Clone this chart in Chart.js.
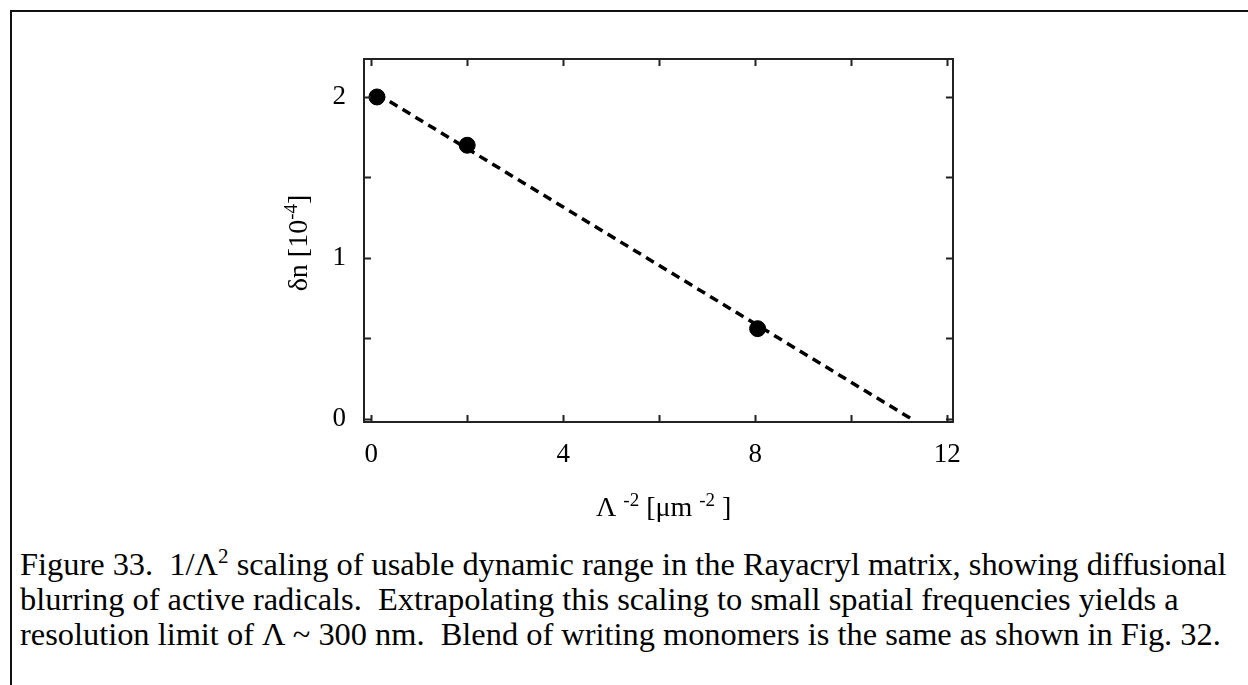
<!DOCTYPE html>
<html>
<head>
<meta charset="utf-8">
<script src="https://cdn.jsdelivr.net/npm/chart.js@4/dist/chart.umd.min.js"></script>
<style>
  html, body { margin: 0; padding: 0; background: #fff; }
  body { width: 1248px; height: 685px; position: relative; overflow: hidden; }
  #frame {
    position: absolute; left: 10px; top: 10px; width: 1300px; height: 800px;
    border-left: 2px solid #111; border-top: 2px solid #111; box-sizing: border-box;
  }
  #wrap { position: absolute; left: 0; top: 0; width: 1248px; height: 540px; }
  #caption {
    position: absolute; left: 20px; top: 547px; width: 1225px;
    font-family: "Liberation Serif", "Times New Roman", serif;
    font-size: 32.4px; line-height: 35px; color: #000; white-space: nowrap;
  }
  #caption sup { font-size: 21px; line-height: 0; vertical-align: 12px; }
</style>
</head>
<body>
<div id="frame"></div>
<div id="wrap"><canvas id="chart" width="1248" height="540"></canvas></div>
<div id="caption">Figure 33.&nbsp; 1/Λ<sup>2</sup> scaling of usable dynamic range in the Rayacryl matrix, showing diffusional<br>blurring of active radicals.&nbsp; Extrapolating this scaling to small spatial frequencies yields a<br>resolution limit of Λ ~ 300 nm.&nbsp; Blend of writing monomers is the same as shown in Fig. 32.</div>
<script>
// Measured grating data: inverse squared period vs. index modulation
const invPeriodSq = [0.12, 2.0, 8.05];
const deltaN = [2.0, 1.7, 0.56];

// Linear extrapolation of the data down to zero modulation
const fitX = [0.12, 11.25];
const fitY = [2.02, 0.0];

// Axis ticks
const xLabelTicks = [0, 4, 8, 12];
const xMarkTicks = [0, 2, 4, 6, 8, 10, 12];
const yLabelTicks = [0, 1, 2];
const yMarkTicks = [0, 0.5, 1, 1.5, 2];

const SERIF = '"Liberation Serif", "Times New Roman", serif';

// Draw a string made of normal and superscript pieces, starting at (x, y) baseline
function drawRich(ctx, parts, x, y, size) {
  let cx = x;
  for (const p of parts) {
    const s = p.sup ? Math.round(size * 0.68) : size;
    ctx.font = s + 'px ' + SERIF;
    ctx.fillText(p.t, cx, p.sup ? y - size * 0.36 : y);
    cx += ctx.measureText(p.t).width;
  }
  return cx - x;
}
function richWidth(ctx, parts, size) {
  let w = 0;
  for (const p of parts) {
    const s = p.sup ? Math.round(size * 0.68) : size;
    ctx.font = s + 'px ' + SERIF;
    w += ctx.measureText(p.t).width;
  }
  return w;
}

const frameAndTitles = {
  id: 'frameAndTitles',
  afterDraw(chart) {
    const ctx = chart.ctx;
    const a = chart.chartArea;
    const xs = chart.scales.x, ys = chart.scales.y;
    ctx.save();
    ctx.strokeStyle = '#222';
    ctx.lineWidth = 2;
    ctx.strokeRect(a.left, a.top, a.right - a.left, a.bottom - a.top);

    // inward tick marks on all four sides
    const tl = 7;
    ctx.beginPath();
    for (const v of xMarkTicks) {
      const px = Math.round(xs.getPixelForValue(v)) + 0.5;
      ctx.moveTo(px, a.bottom); ctx.lineTo(px, a.bottom - tl);
      ctx.moveTo(px, a.top); ctx.lineTo(px, a.top + tl);
    }
    for (const v of yMarkTicks) {
      const py = Math.round(ys.getPixelForValue(v)) + 0.5;
      ctx.moveTo(a.left, py); ctx.lineTo(a.left + tl, py);
      ctx.moveTo(a.right, py); ctx.lineTo(a.right - tl, py);
    }
    ctx.stroke();

    ctx.fillStyle = '#000';
    ctx.textBaseline = 'alphabetic';
    ctx.textAlign = 'left';

    // x axis title
    const xt = [{t: 'Λ '}, {t: '-2', sup: true}, {t: ' [μm '}, {t: '-2', sup: true}, {t: ' ]'}];
    const xw = richWidth(ctx, xt, 28);
    drawRich(ctx, xt, 596, 516, 28);

    // y axis title (rotated)
    const yt = [{t: 'δn [10'}, {t: '-4', sup: true}, {t: ']'}];
    const yw = richWidth(ctx, yt, 28);
    ctx.translate(307, 243);
    ctx.rotate(-Math.PI / 2);
    drawRich(ctx, yt, -yw / 2, 0, 28);
    ctx.restore();
  }
};

new Chart(document.getElementById('chart'), {
  data: {
    datasets: [
      {
        type: 'line',
        data: fitX.map((x, i) => ({x, y: fitY[i]})),
        borderColor: '#000',
        borderWidth: 3.5,
        borderDash: [9, 6],
        pointRadius: 0,
        fill: false,
        order: 2
      },
      {
        type: 'scatter',
        data: invPeriodSq.map((x, i) => ({x, y: deltaN[i]})),
        backgroundColor: '#000',
        borderColor: '#000',
        pointRadius: 8,
        order: 1
      }
    ]
  },
  options: {
    responsive: false,
    animation: false,
    events: [],
    layout: { padding: { left: 0, top: 59, right: 295, bottom: 0 } },
    plugins: { legend: { display: false }, tooltip: { enabled: false } },
    scales: {
      x: {
        type: 'linear',
        min: -0.15, max: 12.12,
        grid: { display: false, drawTicks: false },
        border: { display: false },
        afterBuildTicks: s => { s.ticks = xLabelTicks.map(v => ({value: v})); },
        afterFit: s => { s.height = 118; },
        ticks: { padding: 17, color: '#000', font: { family: SERIF, size: 27 }, maxRotation: 0, autoSkip: false }
      },
      y: {
        type: 'linear',
        min: -0.02, max: 2.236,
        grid: { display: false, drawTicks: false },
        border: { display: false },
        afterBuildTicks: s => { s.ticks = yLabelTicks.map(v => ({value: v})); },
        afterFit: s => { s.width = 364; },
        ticks: { padding: 18, color: '#000', font: { family: SERIF, size: 27 }, autoSkip: false }
      }
    }
  },
  plugins: [frameAndTitles]
});
</script>
</body>
</html>
